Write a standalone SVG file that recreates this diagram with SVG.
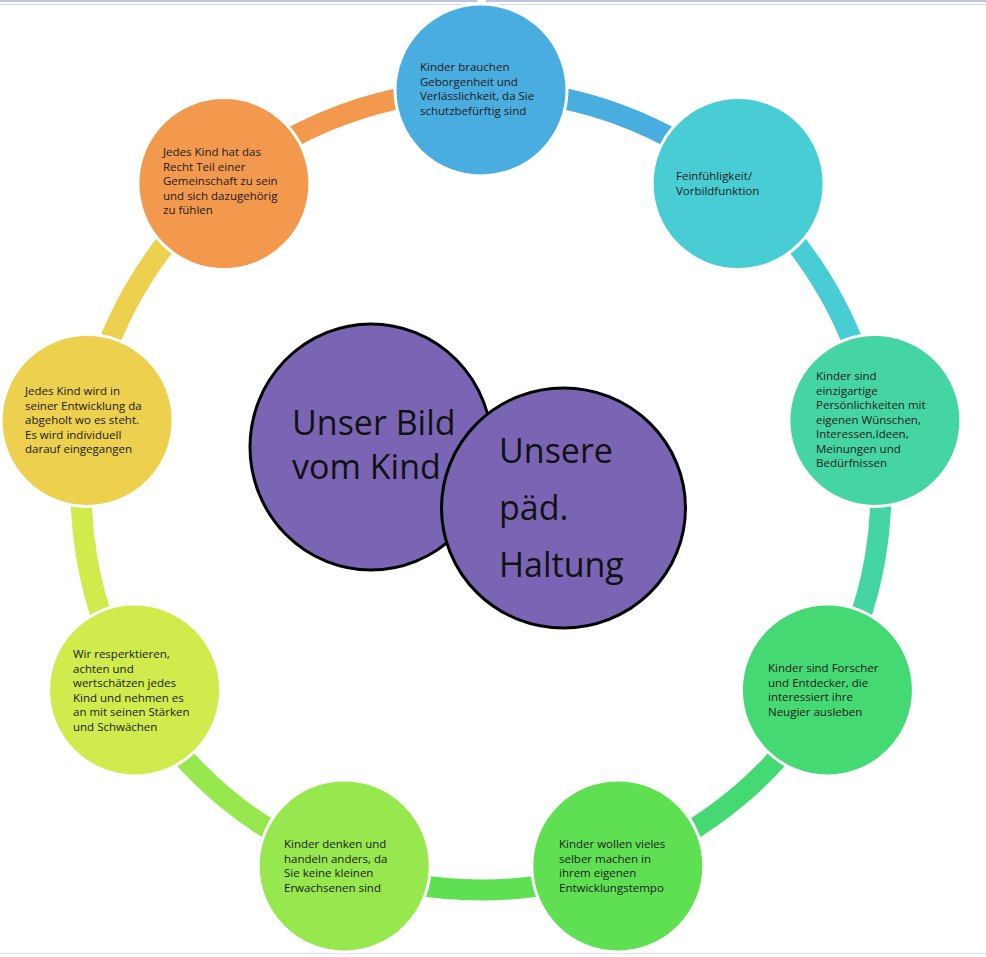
<svg xmlns="http://www.w3.org/2000/svg" width="986" height="957" viewBox="0 0 986 957">
<style>
.ring{fill:none;stroke-width:21}
.node{stroke:#ffffff;stroke-width:3}
.t{font-family:"Open Sans","Liberation Sans",sans-serif;font-size:11.5px;fill:#1a1a1a}
.big{font-family:"Open Sans","Liberation Sans",sans-serif;font-size:34px;fill:#111111}
.hub{fill:#7a65b5;stroke:#000000;stroke-width:3}
</style>
<rect width="986" height="957" fill="#ffffff"/>
<g id="frame">
<line x1="0" y1="1" x2="986" y2="1" stroke="#aab2d4" stroke-width="1.6"/>
<line x1="0" y1="4.5" x2="986" y2="4.5" stroke="#d6daee" stroke-width="1.2"/>
<line x1="0" y1="953.5" x2="986" y2="953.5" stroke="#dde1f2" stroke-width="1.5"/>
<rect x="477" y="0" width="9" height="7" fill="#ffffff"/>
</g>
<g id="connectors">
<path class="ring" stroke="#4aade0" d="M481,90 A400,400 0 0 1 738.1,183.6"/>
<path class="ring" stroke="#48cdd4" d="M738.1,183.6 A400,400 0 0 1 874.9,420.5"/>
<path class="ring" stroke="#45d5a2" d="M874.9,420.5 A400,400 0 0 1 827.4,690"/>
<path class="ring" stroke="#45d973" d="M827.4,690 A400,400 0 0 1 617.8,865.9"/>
<path class="ring" stroke="#5fe053" d="M617.8,865.9 A400,400 0 0 1 344.2,865.9"/>
<path class="ring" stroke="#97e84f" d="M344.2,865.9 A400,400 0 0 1 134.6,690"/>
<path class="ring" stroke="#cfeb4c" d="M134.6,690 A400,400 0 0 1 87.1,420.5"/>
<path class="ring" stroke="#ecd04e" d="M87.1,420.5 A400,400 0 0 1 223.9,183.6"/>
<path class="ring" stroke="#f2994e" d="M223.9,183.6 A400,400 0 0 1 481,90"/>
</g>
<g id="node-1">
<circle class="node" cx="481" cy="90" r="86" fill="#4aade0"/>
<text class="t"><tspan x="420" y="71">Kinder brauchen</tspan><tspan x="420" y="85.5">Geborgenheit und</tspan><tspan x="420" y="100">Verlässlichkeit, da Sie</tspan><tspan x="420" y="114.5">schutzbefürftig sind</tspan></text>
</g>
<g id="node-2">
<circle class="node" cx="738.1" cy="183.6" r="86" fill="#48cdd4"/>
<text class="t"><tspan x="676" y="180">Feinfühligkeit/</tspan><tspan x="676" y="194.5">Vorbildfunktion</tspan></text>
</g>
<g id="node-3">
<circle class="node" cx="874.9" cy="420.5" r="86" fill="#45d5a2"/>
<text class="t"><tspan x="816" y="380">Kinder sind</tspan><tspan x="816" y="394.5">einzigartige</tspan><tspan x="816" y="409">Persönlichkeiten mit</tspan><tspan x="816" y="423.5">eigenen Wünschen,</tspan><tspan x="816" y="438">Interessen,Ideen,</tspan><tspan x="816" y="452.5">Meinungen und</tspan><tspan x="816" y="467">Bedürfnissen</tspan></text>
</g>
<g id="node-4">
<circle class="node" cx="827.4" cy="690" r="86" fill="#45d973"/>
<text class="t"><tspan x="768" y="672">Kinder sind Forscher</tspan><tspan x="768" y="686.5">und Entdecker, die</tspan><tspan x="768" y="701">interessiert ihre</tspan><tspan x="768" y="715.5">Neugier ausleben</tspan></text>
</g>
<g id="node-5">
<circle class="node" cx="617.8" cy="865.9" r="86" fill="#5fe053"/>
<text class="t"><tspan x="559" y="848">Kinder wollen vieles</tspan><tspan x="559" y="862.5">selber machen in</tspan><tspan x="559" y="877">ihrem eigenen</tspan><tspan x="559" y="891.5">Entwicklungstempo</tspan></text>
</g>
<g id="node-6">
<circle class="node" cx="344.2" cy="865.9" r="86" fill="#97e84f"/>
<text class="t"><tspan x="284" y="848">Kinder denken und</tspan><tspan x="284" y="862.5">handeln anders, da</tspan><tspan x="284" y="877">Sie keine kleinen</tspan><tspan x="284" y="891.5">Erwachsenen sind</tspan></text>
</g>
<g id="node-7">
<circle class="node" cx="134.6" cy="690" r="86" fill="#cfeb4c"/>
<text class="t"><tspan x="73" y="658">Wir resperktieren,</tspan><tspan x="73" y="672.5">achten und</tspan><tspan x="73" y="687">wertschätzen jedes</tspan><tspan x="73" y="701.5">Kind und nehmen es</tspan><tspan x="73" y="716">an mit seinen Stärken</tspan><tspan x="73" y="730.5">und Schwächen</tspan></text>
</g>
<g id="node-8">
<circle class="node" cx="87.1" cy="420.5" r="86" fill="#ecd04e"/>
<text class="t"><tspan x="25" y="395">Jedes Kind wird in</tspan><tspan x="25" y="409.5">seiner Entwicklung da</tspan><tspan x="25" y="424">abgeholt wo es steht.</tspan><tspan x="25" y="438.5">Es wird individuell</tspan><tspan x="25" y="453">darauf eingegangen</tspan></text>
</g>
<g id="node-9">
<circle class="node" cx="223.9" cy="183.6" r="86" fill="#f2994e"/>
<text class="t"><tspan x="163" y="156">Jedes Kind hat das</tspan><tspan x="163" y="170.5">Recht Teil einer</tspan><tspan x="163" y="185">Gemeinschaft zu sein</tspan><tspan x="163" y="199.5">und sich dazugehörig</tspan><tspan x="163" y="214">zu fühlen</tspan></text>
</g>
<g id="hub-bild">
<ellipse class="hub" cx="371" cy="447" rx="121" ry="123"/>
<text class="big"><tspan x="292" y="435">Unser Bild</tspan><tspan x="292" y="479">vom Kind</tspan></text>
</g>
<g id="hub-haltung">
<ellipse class="hub" cx="563.5" cy="508" rx="122" ry="120"/>
<text class="big"><tspan x="499" y="463">Unsere</tspan><tspan x="499" y="520">päd.</tspan><tspan x="499" y="577">Haltung</tspan></text>
</g>
</svg>
